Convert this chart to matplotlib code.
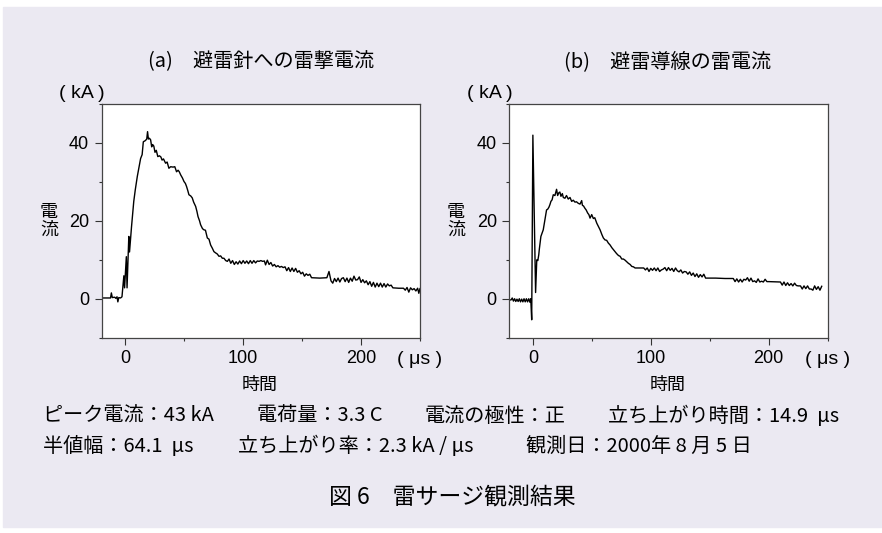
import numpy as np
import matplotlib
matplotlib.use('Agg')
from matplotlib import pyplot as plt
from matplotlib.patches import Rectangle
from matplotlib.ticker import MultipleLocator

# (a) current into the lightning rod, (t in us, I in kA)
t_a = [-20, -15, -12.5, -11.8, -11, -9, -8, -7, -6.3, -5.5, -4, -2.8, -1.2, -0.6, 0.9, 1.5,
       3.0, 3.6, 5.3, 6.2, 7.2, 8.5, 10.2, 11.5, 13, 14.3, 15.3, 17, 18.2, 18.9, 19.6, 20.5,
       21.5, 22.4, 23.2, 24.2, 25.2, 26.3, 27.6, 29, 30.2, 31.2, 32.4, 34.2, 35.5, 37, 38.5,
       40.5, 42, 43.5, 44.8, 45.8, 47, 48.5, 49.8, 51, 52, 53, 54, 55.5, 56.8, 58, 59.7,
       60.8, 61.7, 63, 63.9, 65.5, 66.7, 68, 69.6, 71, 72.4, 73.8, 75.2, 76.5, 78, 79.5,
       80.9, 82.3, 83.7, 85.2, 86.6, 88, 89.5, 91, 92.5, 94, 95.5, 97, 98.5, 100, 101.5,
       103, 104.5, 106, 107.5, 109, 110.5, 112, 113.5, 115, 116.5, 118, 119, 120.5, 122,
       123.5, 125, 126.5, 128, 129.5, 131, 132.5, 134, 135.5, 137, 138.5, 140, 141.5, 143,
       144.5, 146, 147.5, 149, 150.5, 152, 153.5, 155, 156.5, 158, 165, 171, 172.8, 174.5,
       176, 177.5, 179, 180.5, 182, 183.5, 185, 186.5, 188, 189.5, 191, 192.5, 194, 195.5,
       197, 198.5, 200, 201.5, 203, 204.5, 206, 207.5, 209, 210.5, 212, 213.5, 215, 216.5,
       218, 219.5, 221, 222.5, 224, 225.5, 227, 232, 236, 237.5, 239, 240.5, 242, 243.5,
       245, 246.5, 248, 249, 250]
i_a = [0.2, 0.2, 0.2, 1.5, 0.3, 0.4, 0.1, 0.5, -0.8, 0.3, 0.2, 0.5, 5.9, 2.8, 10.8, 2.8,
       16.0, 12.0, 18.5, 21.5, 25.0, 28.0, 31.4, 33.5, 36.0, 37.0, 40.3, 40.6, 41.0, 42.9, 41.0, 41.2,
       40.8, 39.0, 39.6, 39.2, 37.6, 38.1, 36.5, 36.7, 36.4, 35.6, 35.9, 34.8, 35.1, 33.5, 33.9,
       33.8, 33.9, 32.6, 33.0, 32.6, 31.8, 31.0, 30.1, 29.6, 28.8, 27.8, 26.7, 26.4, 25.9, 24.8, 23.7,
       22.4, 21.1, 20.0, 19.0, 18.0, 17.7, 17.6, 15.6, 15.3, 13.8, 13.0, 12.1, 11.8, 11.5, 10.9,
       11.0, 10.4, 10.4, 9.8, 9.6, 10.2, 9.1, 9.8, 8.8, 9.5, 8.9, 9.7, 9.0, 9.8, 9.1,
       9.7, 9.0, 9.8, 9.1, 9.8, 9.2, 9.7, 9.6, 9.8, 9.6, 9.7, 8.7, 9.9, 8.8,
       9.3, 8.4, 8.8, 8.2, 8.5, 8.1, 8.3, 8.0, 8.2, 7.2, 8.0, 7.0, 7.9, 7.0,
       7.8, 6.8, 7.2, 6.4, 6.8, 5.8, 6.4, 6.0, 6.3, 5.4, 5.3, 5.4, 7.0, 4.6,
       4.0, 5.2, 4.4, 5.3, 4.3, 5.2, 5.4, 4.4, 5.3, 4.2, 5.3, 4.5, 5.8, 4.8,
       4.9, 5.6, 4.2, 4.9, 4.1, 4.6, 3.6, 4.4, 3.2, 4.2, 3.0, 4.0, 3.1, 4.0,
       3.0, 3.9, 3.0, 3.8, 3.3, 3.5, 2.8, 2.7, 2.7, 2.2, 2.9, 1.7, 2.8, 2.3,
       2.6, 2.0, 2.7, 1.4, 2.6]

# (b) current in the down conductor
t_b = [-20, -18.5, -17.5, -16.5, -15.5, -14.5, -13.5, -12.5, -11.5, -10.5, -9.5, -8.5, -7.5,
       -6.5, -5.5, -4.5, -3.5, -2.5, -1.8, -1.0, 0.0, 2.3, 3.3, 4.2, 5.0, 5.5, 6.8, 8.0, 8.8,
       10.2, 11.6, 12.6, 13.6, 14.5, 15.3, 16.3, 17.3, 18.7, 20.1, 21.0, 22, 22.9, 23.8, 25,
       25.8, 27.2, 28.5, 30, 31.5, 32.9, 34.3, 35.7, 37, 38.5, 40, 41.4, 42, 43, 44.2, 45.2,
       46.5, 47.5, 48.5, 49.9, 51.3, 52.5, 54.2, 55.5, 57, 58.5, 59.8, 61.2, 62.6, 64, 65.5,
       67, 68.3, 69.7, 71, 72.6, 74, 75.4, 76.8, 78.2, 79.6, 81, 82.5, 83.9, 85.3, 86.7, 94,
       95.5, 97, 98.5, 100, 101.5, 103, 104.5, 106, 107.5, 109, 110.5, 112, 113.5, 115, 116.5,
       118, 119.5, 121, 122.5, 124, 125.5, 127, 128.5, 130, 131.5, 133, 134.5, 136, 137.5,
       139, 140.5, 142, 143.5, 145, 146.5, 155, 163, 170, 171.5, 173, 174.5, 176, 177.5, 179,
       180.5, 182, 183.5, 185, 186.5, 188, 189.5, 191, 192.5, 194, 195.5, 197, 198.5, 200,
       208, 210, 211.5, 213, 214.5, 216, 217.5, 219, 220.5, 222, 223.5, 225, 227, 228.5, 230,
       231.5, 233, 234.5, 236, 237.5, 239, 240.5, 242, 243.5, 245]
i_b = [-0.3, -0.3, 0.2, -0.6, 0.0, -0.7, -0.1, -0.7, 0.0, -0.8, -0.1, -0.8, 0.0,
       -0.8, 0.0, -0.8, 0.0, -0.9, 0.0, -5.4, 42.0, 1.6, 10.0, 9.8, 11.3, 12.8, 16.0, 17.0, 17.7,
       20.3, 22.8, 23.0, 23.5, 24.2, 25.0, 25.4, 26.7, 26.5, 28.1, 26.5, 27.2, 27.4, 26.3, 27.0,
       26.0, 25.8, 26.5, 25.6, 26.0, 25.0, 25.3, 24.8, 24.9, 24.5, 24.3, 25.2, 24.0, 23.8, 23.2, 22.8,
       22.0, 21.6, 20.7, 21.6, 20.6, 20.8, 19.4, 18.6, 17.7, 16.5, 15.6, 15.1, 15.0, 14.3, 13.8,
       13.1, 12.6, 12.1, 11.6, 11.1, 10.9, 10.2, 10.2, 9.9, 9.5, 9.1, 8.8, 8.3, 8.2, 7.9, 7.9,
       7.4, 7.9, 7.0, 7.8, 7.3, 7.9, 7.2, 7.9, 7.0, 7.4, 7.6, 8.0, 7.2, 8.0, 7.3,
       7.8, 7.0, 7.9, 7.2, 6.9, 7.4, 6.6, 7.0, 6.9, 6.3, 6.9, 6.0, 6.6, 5.7,
       6.4, 5.5, 6.2, 5.6, 6.3, 5.3, 5.3, 5.2, 5.2, 4.4, 5.1, 4.3, 5.0, 4.3, 5.0,
       4.8, 5.4, 4.5, 5.3, 4.4, 4.6, 4.2, 5.1, 4.3, 4.5, 4.3, 5.0, 4.4, 4.4,
       4.3, 4.3, 3.5, 4.3, 3.4, 4.1, 3.4, 3.9, 3.3, 4.0, 3.4, 3.3, 3.3, 2.5, 3.3,
       2.6, 3.3, 2.5, 2.5, 2.2, 3.3, 2.4, 3.1, 2.2, 3.2]

titles = ['(a)　避雷針への雷撃電流', '(b)　避雷導線の雷電流']
line1 = ['ピーク電流：43 kA', '電荷量：3.3 C', '電流の極性：正', '立ち上がり時間：14.9  μs']
line2 = ['半値幅：64.1  μs', '立ち上がり率：2.3 kA / μs', '観測日：2000年 8 月 5 日']
caption = '図 6　雷サージ観測結果'

JP = ['Noto Sans CJK JP', 'DejaVu Sans']
LAT = ['Liberation Sans', 'DejaVu Sans']
W, H = 882, 533

fig = plt.figure(figsize=(8.82, 5.33), dpi=100)
fig.patch.set_facecolor('white')
fig.patches.append(Rectangle((3 / W, 1 - 527 / H), 1, (527 - 7) / H,
                             transform=fig.transFigure, color='#ebe9f2', zorder=-10))

def px(x, y):
    return x / W, 1 - y / H

ax_a = fig.add_axes([101.7 / W, 1 - 337.7 / H, 318.3 / W, 233.7 / H])
ax_b = fig.add_axes([509.3 / W, 1 - 337.7 / H, 318.3 / W, 233.7 / H])

for ax, t, i in [(ax_a, t_a, i_a), (ax_b, t_b, i_b)]:
    ax.plot(t, i, color='black', lw=1.0)
    ax.set_xlim(-20, 250)
    ax.set_ylim(-10, 50)
    ax.set_xticks([0, 100, 200])
    ax.set_yticks([0, 20, 40])
    ax.xaxis.set_minor_locator(MultipleLocator(50))
    ax.yaxis.set_minor_locator(MultipleLocator(10))
    ax.tick_params(which='major', length=5, width=0.8, color='#333333', labelsize=13, pad=4)
    ax.tick_params(which='minor', length=2.5, width=0.8, color='#333333')
    for lab in ax.get_xticklabels() + ax.get_yticklabels():
        lab.set_family(LAT)
    for s in ax.spines.values():
        s.set_color('#444444')
        s.set_linewidth(0.9)
    ax.set_facecolor('white')

# titles and axis texts (pixel positions)
for cx, title in zip([261, 668], titles):
    fig.text(*px(cx, 62), title, family=JP, fontsize=14.5, ha='center', va='center')
for x0, ylx, xlx, ux in [(82, 49, 260, 420), (490, 456, 668, 828)]:
    fig.text(*px(x0, 94), '( kA )', family=LAT, fontsize=14, ha='center', va='center')
    fig.text(*px(ylx, 221), '電\n流', family=JP, fontsize=13, ha='center', va='center',
             linespacing=1.0)
    fig.text(*px(xlx, 385), '時間', family=JP, fontsize=13, ha='center', va='center')
    fig.text(*px(ux, 360), '( μs )', family=LAT, fontsize=14, ha='center', va='center')

for x0, s in zip([43, 257, 425, 608], line1):
    fig.text(*px(x0, 416), s, family=JP, fontsize=14.5, ha='left', va='center')
for x0, s in zip([43, 238, 526], line2):
    fig.text(*px(x0, 446), s, family=JP, fontsize=14.5, ha='left', va='center')
fig.text(*px(452, 497), caption, family=JP, fontsize=16.5, ha='center', va='center')

fig.savefig('out.png', dpi=100, facecolor=fig.get_facecolor())
